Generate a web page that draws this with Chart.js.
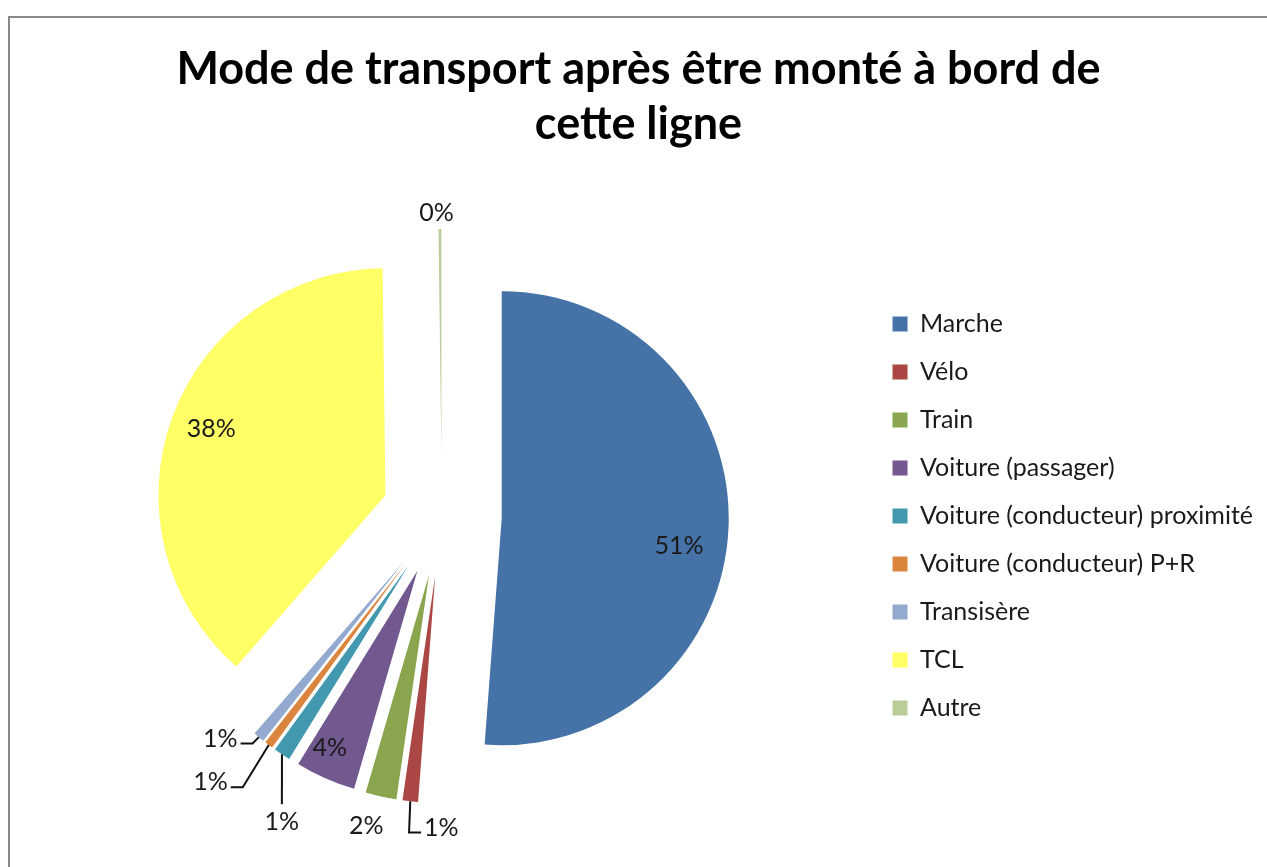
<!DOCTYPE html>
<html>
<head>
<meta charset="utf-8">
<script src="https://cdn.jsdelivr.net/npm/chart.js@4"></script>
<style>
  html, body { margin: 0; padding: 0; background: #fff; overflow: hidden; }
  #frame { position: absolute; left: 8px; top: 16px; width: 1300px; height: 900px; border: 2px solid #8a8a8a; }
  #chart { position: absolute; left: 0; top: 0; }
</style>
</head>
<body>
<div id="frame"></div>
<canvas id="chart" width="1267" height="867"></canvas>
<script>
var categories = ['Marche', 'Vélo', 'Train', 'Voiture (passager)', 'Voiture (conducteur) proximité',
  'Voiture (conducteur) P+R', 'Transisère', 'TCL', 'Autre'];
var shares = [51.2, 1.1, 2.2, 4.3, 1.2, 0.6, 0.8, 38.4, 0.2];
var colors = ['#4572A7', '#AA4643', '#89A54E', '#71588F', '#4198AF', '#DB843D', '#93A9CF', '#FFFF66', '#B9CD96'];

// label placement per slice: radius factor, angle nudge (deg), leader line side
var labelLayout = [
  [0.79, 6.7, null],
  [1.11, -7.7, 'right'],
  [1.14, 1.8, null],
  [0.87, 2.4, null],
  [1.26, -7.6, 'below'],
  [1.29, 4.7, 'left'],
  [1.12, 6.5, 'left'],
  [0.82, 0.6, null],
  [1.07, -0.8, null]
];

var explode = 60;

var explodePlugin = {
  id: 'explode',
  beforeDatasetDraw: function(chart, args) {
    var ctx = chart.ctx;
    args.meta.data.forEach(function(arc) {
      var mid = (arc.startAngle + arc.endAngle) / 2;
      ctx.save();
      ctx.translate(Math.cos(mid) * explode, Math.sin(mid) * explode);
      arc.draw(ctx);
      ctx.restore();
    });
    return false;
  },
  afterDatasetsDraw: function(chart) {
    var ctx = chart.ctx;
    var meta = chart.getDatasetMeta(0);
    ctx.save();
    ctx.font = '25px Lato';
    ctx.textAlign = 'center';
    ctx.textBaseline = 'middle';
    meta.data.forEach(function(arc, i) {
      var mid = (arc.startAngle + arc.endAngle) / 2;
      var ax = arc.x + Math.cos(mid) * explode;
      var ay = arc.y + Math.sin(mid) * explode;
      var r = arc.outerRadius;
      var lay = labelLayout[i];
      var a = mid + lay[1] * Math.PI / 180;
      var lx = ax + Math.cos(a) * r * lay[0];
      var ly = ay + Math.sin(a) * r * lay[0];
      var text = Math.round(shares[i]) + '%';
      var w = ctx.measureText(text).width;
      if (lay[2]) {
        var sx = ax + Math.cos(mid) * r;
        var sy = ay + Math.sin(mid) * r;
        ctx.beginPath();
        ctx.strokeStyle = '#111';
        ctx.lineWidth = 2;
        ctx.moveTo(sx, sy);
        if (lay[2] == 'below') {
          ctx.lineTo(lx, ly - 18);
        } else if (lay[2] == 'left') {
          ctx.lineTo(lx + w / 2 + 15, ly + 5);
          ctx.lineTo(lx + w / 2 + 3, ly + 5);
        } else {
          ctx.lineTo(lx - w / 2 - 15, ly + 5);
          ctx.lineTo(lx - w / 2 - 3, ly + 5);
        }
        ctx.stroke();
      }
      ctx.fillStyle = '#1a1a1a';
      ctx.fillText(text, lx, ly);
    });
    ctx.restore();
  }
};

var ctx = document.getElementById('chart').getContext('2d');
var myChart = new Chart(ctx, {
  type: 'pie',
  data: {
    labels: categories,
    datasets: [{
      data: shares,
      backgroundColor: colors,
      borderWidth: 0,
      radius: 227
    }]
  },
  options: {
    responsive: false,
    animation: false,
    events: [],
    layout: {
      padding: { left: 14, right: 4, top: 0, bottom: 0 }
    },
    plugins: {
      title: {
        display: true,
        text: ['Mode de transport après être monté à bord de', 'cette ligne'],
        color: '#000',
        font: { family: 'Lato', size: 45, weight: 'bold', lineHeight: 1.222 },
        padding: { top: 42, bottom: 13 }
      },
      legend: {
        position: 'right',
        fullSize: false,
        labels: {
          boxWidth: 15,
          boxHeight: 15,
          padding: 23,
          color: '#1a1a1a',
          font: { family: 'Lato', size: 25 }
        }
      },
      tooltip: { enabled: false }
    }
  },
  plugins: [explodePlugin]
});
</script>
</body>
</html>
